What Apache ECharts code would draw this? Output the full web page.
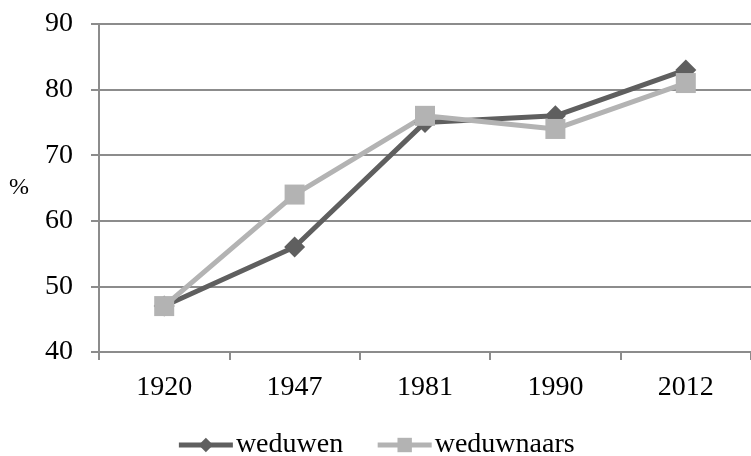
<!DOCTYPE html>
<html>
<head>
<meta charset="utf-8">
<script src="https://cdn.jsdelivr.net/npm/echarts@6/dist/echarts.min.js"></script>
<style>html,body{margin:0;padding:0;background:#fff}#chart{width:751px;height:456px}</style>
</head>
<body>
<div id="chart"></div>
<script>
const years = ['1920', '1947', '1981', '1990', '2012'];
const weduwen = [47, 56, 75, 76, 83];
const weduwnaars = [47, 64, 76, 74, 81];

const font = 'Liberation Serif, Times New Roman, serif';
const chart = echarts.init(document.getElementById('chart'));
chart.setOption({
  animation: false,
  textStyle: { fontFamily: font },
  grid: { left: 99, top: 24, width: 658, height: 328, containLabel: false },
  xAxis: {
    type: 'category',
    data: years,
    boundaryGap: true,
    axisLine: { lineStyle: { color: '#8c8c8c', width: 2 } },
    axisTick: { show: true, length: 8, lineStyle: { color: '#8c8c8c', width: 2 } },
    axisLabel: { color: '#000', fontSize: 28, fontFamily: font, margin: 22 }
  },
  yAxis: {
    type: 'value',
    min: 40, max: 90, interval: 10,
    name: '%',
    nameLocation: 'middle',
    nameRotate: 0,
    nameGap: 70,
    nameTextStyle: { color: '#000', fontSize: 24, fontFamily: font, padding: [6, 0, 0, 0] },
    axisLine: { show: true, lineStyle: { color: '#8c8c8c', width: 2 } },
    axisTick: { show: true, length: 8, inside: false, lineStyle: { color: '#8c8c8c', width: 2 } },
    axisLabel: { color: '#000', fontSize: 28, fontFamily: font, margin: 26 },
    splitLine: { lineStyle: { color: '#8c8c8c', width: 2 } }
  },
  legend: {
    bottom: -8,
    left: 'center',
    itemWidth: 54,
    itemHeight: 18,
    itemGap: 32,
    lineStyle: { width: 5 },
    textStyle: { color: '#000', fontSize: 28, fontFamily: font, padding: [0, 0, 0, -2] },
    data: ['weduwen', 'weduwnaars']
  },
  series: [
    {
      name: 'weduwen', type: 'line', data: weduwen,
      symbol: 'diamond', symbolSize: 21,
      lineStyle: { color: '#5f5f5f', width: 5 },
      itemStyle: { color: '#5f5f5f' }
    },
    {
      name: 'weduwnaars', type: 'line', data: weduwnaars,
      symbol: 'rect', symbolSize: 20,
      lineStyle: { color: '#b3b3b3', width: 5 },
      itemStyle: { color: '#b3b3b3' }
    }
  ]
});
</script>
</body>
</html>
